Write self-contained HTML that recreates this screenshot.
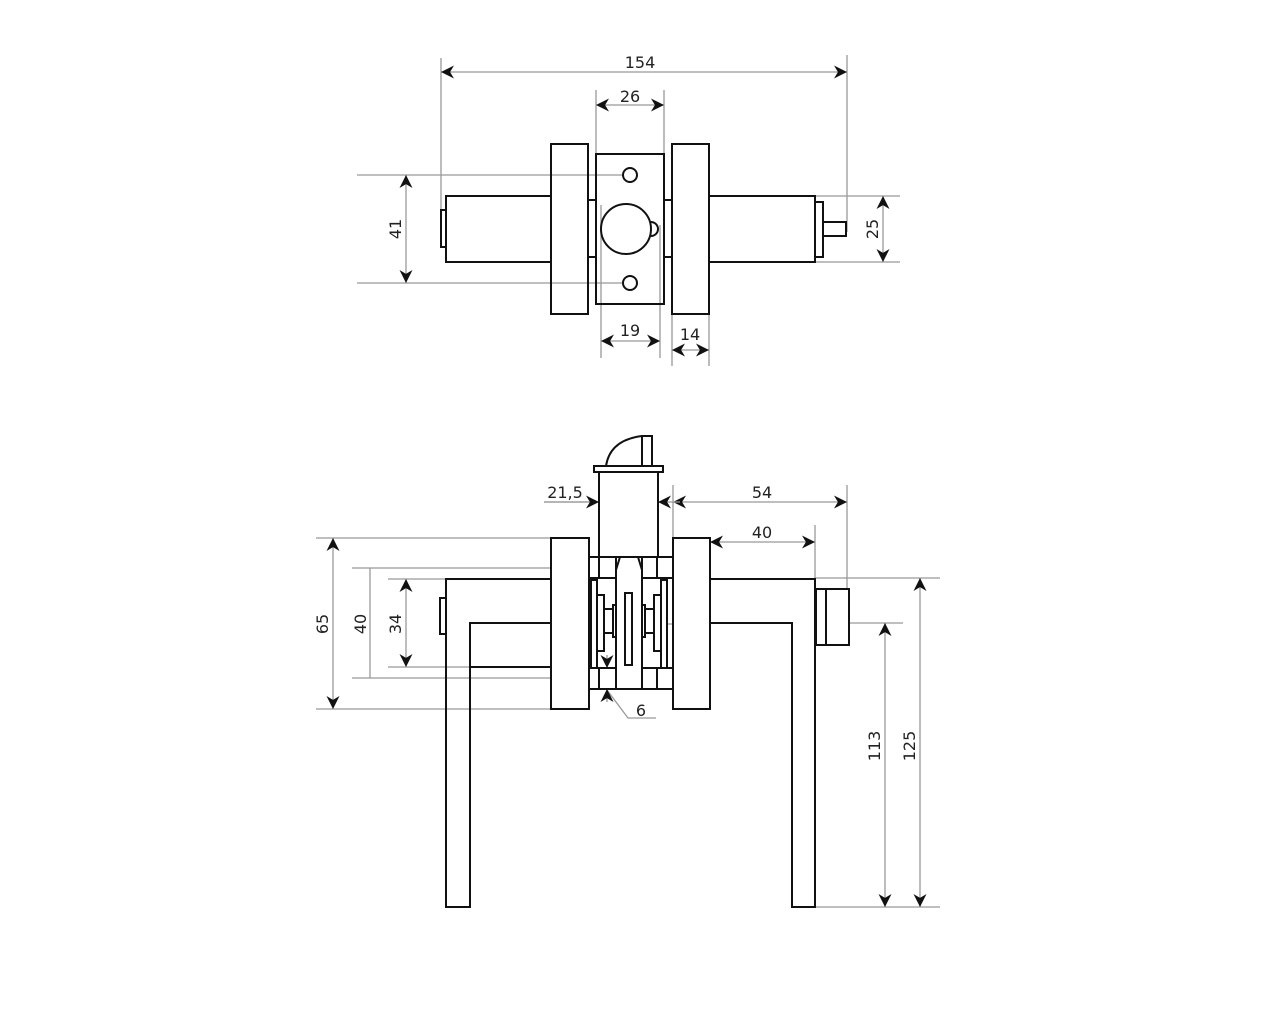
<!DOCTYPE html>
<html><head><meta charset="utf-8"><style>html,body{margin:0;padding:0;background:#fff}svg{display:block}text{font-family:"DejaVu Sans","Liberation Sans",sans-serif;font-size:16px;fill:#222}</style></head>
<body>
<svg width="1280" height="1024" viewBox="0 0 1280 1024" xmlns="http://www.w3.org/2000/svg">
<defs>
<marker id="a" viewBox="0 0 10 10" refX="10" refY="5" markerWidth="13" markerHeight="13" markerUnits="userSpaceOnUse" orient="auto-start-reverse"><path d="M0,0 L10,5 L0,10 L3,5 z" fill="#111"/></marker>
</defs>
<g stroke="#999" stroke-width="1.3" fill="none">
<line x1="441" y1="58" x2="441" y2="240"/>
<line x1="847" y1="55" x2="847" y2="232"/>
<line x1="596" y1="90" x2="596" y2="154"/>
<line x1="664" y1="90" x2="664" y2="154"/>
<line x1="357" y1="175" x2="624" y2="175"/>
<line x1="357" y1="283" x2="624" y2="283"/>
<line x1="815" y1="196" x2="900" y2="196"/>
<line x1="815" y1="262" x2="900" y2="262"/>
<line x1="601" y1="205" x2="601" y2="358"/>
<line x1="660" y1="225" x2="660" y2="358"/>
<line x1="672" y1="314" x2="672" y2="366"/>
<line x1="709" y1="314" x2="709" y2="366"/>
<line x1="544" y1="502" x2="599" y2="502"/>
<line x1="673" y1="485" x2="673" y2="538"/>
<line x1="847" y1="485" x2="847" y2="589"/>
<line x1="815" y1="525" x2="815" y2="578"/>
<line x1="316" y1="538" x2="551" y2="538"/>
<line x1="316" y1="709" x2="551" y2="709"/>
<line x1="352" y1="568" x2="590" y2="568"/>
<line x1="352" y1="678" x2="590" y2="678"/>
<line x1="370" y1="568" x2="370" y2="678"/>
<line x1="388" y1="579" x2="446" y2="579"/>
<line x1="388" y1="667" x2="470" y2="667"/>
<line x1="815" y1="578" x2="940" y2="578"/>
<line x1="847" y1="623" x2="903" y2="623"/>
<line x1="815" y1="907" x2="940" y2="907"/>
<line x1="551" y1="561" x2="600" y2="561" stroke-dasharray="2,2"/>
<line x1="551" y1="574" x2="600" y2="574" stroke-dasharray="2,2"/>
<line x1="551" y1="673" x2="600" y2="673" stroke-dasharray="2,2"/>
<line x1="551" y1="686" x2="600" y2="686" stroke-dasharray="2,2"/>
<line x1="607" y1="660" x2="607" y2="698"/>
<polyline points="607,690 628,718 656,718"/>
<line x1="651" y1="624" x2="690" y2="624"/>
</g>
<g stroke="#999" stroke-width="1.3" fill="none" marker-start="url(#a)" marker-end="url(#a)">
<line x1="441" y1="72" x2="847" y2="72"/>
<line x1="596" y1="105" x2="664" y2="105"/>
<line x1="406" y1="175" x2="406" y2="283"/>
<line x1="883" y1="196" x2="883" y2="262"/>
<line x1="601" y1="341" x2="660" y2="341"/>
<line x1="672" y1="350" x2="709" y2="350"/>
<line x1="673" y1="502" x2="847" y2="502"/>
<line x1="710" y1="542" x2="815" y2="542"/>
<line x1="333" y1="538" x2="333" y2="709"/>
<line x1="406" y1="579" x2="406" y2="667"/>
<line x1="885" y1="623" x2="885" y2="907"/>
<line x1="920" y1="578" x2="920" y2="907"/>
</g>
<g stroke="#999" stroke-width="1.3" fill="none">
<line x1="544" y1="502" x2="599" y2="502" marker-end="url(#a)"/>
<line x1="680" y1="502" x2="658" y2="502" marker-end="url(#a)"/>
<line x1="607" y1="655" x2="607" y2="668" marker-end="url(#a)"/>
<line x1="607" y1="702" x2="607" y2="689" marker-end="url(#a)"/>
</g>
<text x="640" y="68" text-anchor="middle">154</text>
<text x="630" y="102" text-anchor="middle">26</text>
<text x="630" y="336" text-anchor="middle">19</text>
<text x="690" y="340" text-anchor="middle">14</text>
<text transform="translate(401,229) rotate(-90)" text-anchor="middle">41</text>
<text transform="translate(878,229) rotate(-90)" text-anchor="middle">25</text>
<text x="565" y="498" text-anchor="middle">21,5</text>
<text x="762" y="498" text-anchor="middle">54</text>
<text x="762" y="538" text-anchor="middle">40</text>
<text transform="translate(328,624) rotate(-90)" text-anchor="middle">65</text>
<text transform="translate(366,624) rotate(-90)" text-anchor="middle">40</text>
<text transform="translate(401,624) rotate(-90)" text-anchor="middle">34</text>
<text transform="translate(880,746) rotate(-90)" text-anchor="middle">113</text>
<text transform="translate(915,746) rotate(-90)" text-anchor="middle">125</text>
<text x="641" y="716" text-anchor="middle">6</text>
<g stroke="#111" stroke-width="2" fill="none">
<rect x="446" y="196" width="105" height="66"/>
<rect x="441" y="210" width="5" height="37"/>
<rect x="709" y="196" width="106" height="66"/>
<rect x="815" y="202" width="8" height="55"/>
<rect x="823" y="222" width="23" height="14"/>
<rect x="551" y="144" width="37" height="170"/>
<rect x="672" y="144" width="37" height="170"/>
<line x1="588" y1="200" x2="596" y2="200"/><line x1="588" y1="257" x2="596" y2="257"/>
<line x1="664" y1="200" x2="672" y2="200"/><line x1="664" y1="257" x2="672" y2="257"/>
<rect x="596" y="154" width="68" height="150"/>
<circle cx="630" cy="175" r="7"/>
<circle cx="630" cy="283" r="7"/>
<path d="M651,222 A7,7 0 0 1 651,236"/>
<ellipse cx="626" cy="229" rx="25" ry="25"/>
</g>
<g stroke="#111" stroke-width="2" fill="#fff">
<path d="M551,579 L446,579 L446,907 L470,907 L470,623 L551,623" fill="none"/>
<line x1="470" y1="667" x2="551" y2="667"/>
<rect x="440" y="598" width="6" height="36"/>
<path d="M710,579 L815,579 L815,907 L792,907 L792,623 L710,623" fill="none"/>
<rect x="816" y="589" width="33" height="56"/>
<line x1="826" y1="589" x2="826" y2="645"/>
<rect x="551" y="538" width="38" height="171"/>
<rect x="673" y="538" width="37" height="171"/>
<path d="M606,466 Q610,440 642,436" fill="none"/>
<rect x="642" y="436" width="10" height="30"/>
<rect x="594" y="466" width="69" height="6"/>
<rect x="599" y="472" width="59" height="85"/>
<rect x="589" y="557" width="27" height="21"/><line x1="599" y1="557" x2="599" y2="578"/>
<rect x="642" y="557" width="31" height="21"/><line x1="657" y1="557" x2="657" y2="578"/>
<rect x="589" y="668" width="27" height="21"/><line x1="599" y1="668" x2="599" y2="689"/>
<rect x="642" y="668" width="31" height="21"/><line x1="657" y1="668" x2="657" y2="689"/>
<rect x="591" y="580" width="6" height="88"/>
<rect x="597" y="595" width="7" height="56"/>
<rect x="604" y="609" width="9" height="24"/>
<rect x="613" y="605" width="3" height="32"/>
<rect x="661" y="580" width="6" height="88"/>
<rect x="654" y="595" width="7" height="56"/>
<rect x="645" y="609" width="9" height="24"/>
<rect x="642" y="605" width="3" height="32"/>
<polygon points="620,557 638,557 642,570 642,689 616,689 616,570"/>
<rect x="625" y="593" width="7" height="72"/>
</g>
</svg>
</body></html>
